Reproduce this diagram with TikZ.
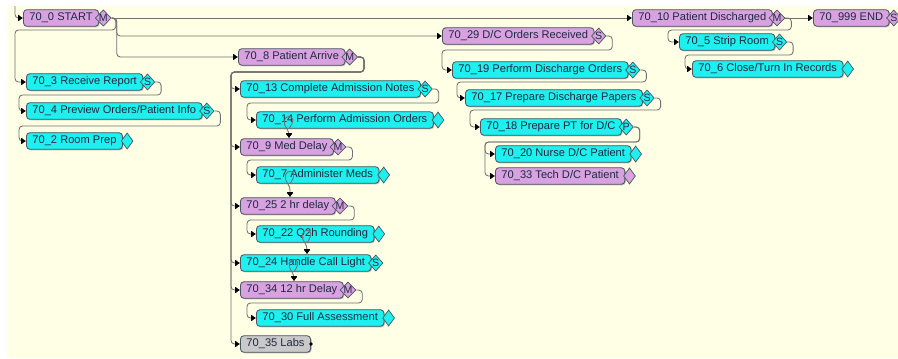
\documentclass[tikz,border=0pt]{standalone}
\usepackage{fontspec}
\setmainfont{Liberation Sans}
\usepackage{xcolor}
\usetikzlibrary{arrows.meta,shapes.geometric,shadows,calc}

\definecolor{bgyellow}{HTML}{FFFFE6}
\definecolor{taskcyan}{HTML}{1EEFEF}
\definecolor{taskpurple}{HTML}{D8A2E0}
\definecolor{taskgray}{HTML}{C9C9C9}
\definecolor{boxline}{HTML}{4A5660}
\definecolor{connline}{HTML}{707070}
\definecolor{textdark}{HTML}{202840}

\begin{document}
\begin{tikzpicture}[x=0.025cm,y=-0.025cm,
    task/.style={rectangle,rounded corners=2.5pt,draw=boxline,line width=0.6pt,
        anchor=west,minimum height=11.8pt,inner xsep=4.3pt,inner ysep=0pt,
        font=\fontsize{7.9}{9}\selectfont,text=textdark,
        drop shadow={shadow xshift=0.7pt,shadow yshift=-0.7pt,fill=black!40,opacity=.6}},
    cyantask/.style={task,fill=taskcyan},
    purpletask/.style={task,fill=taskpurple},
    graytask/.style={task,fill=taskgray},
    badge/.style={diamond,draw=boxline,line width=0.5pt,inner sep=0pt,
        minimum width=8.5pt,minimum height=11.5pt,
        font=\fontsize{7.5}{7.5}\selectfont,text=textdark},
    cyanbadge/.style={badge,fill=taskcyan},
    purplebadge/.style={badge,fill=taskpurple},
    conn/.style={draw=connline,line width=0.6pt,rounded corners=2.5pt,
        -{Bar[width=4pt,line width=0.8pt,black]Latex[length=3pt,width=4.5pt,black]}},
]
\useasboundingbox (0,0) rectangle (898,358);
\fill[bgyellow] (7,6) rectangle (898,358);

% admission side
\node (n0) at (23,18) [purpletask] {70\_0 START};
\node (n0b) at ([xshift=3pt]n0.east) [purplebadge] {M};
\node (n3) at (26,82) [cyantask] {70\_3 Receive Report};
\node (n3b) at ([xshift=3pt]n3.east) [cyanbadge] {S};
\node (n4) at (26,111) [cyantask] {70\_4 Preview Orders/Patient Info};
\node (n4b) at ([xshift=3pt]n4.east) [cyanbadge] {S};
\node (n2) at (26,141) [cyantask] {70\_2 Room Prep};
\node (n2b) at ([xshift=3pt]n2.east) [cyanbadge] {};

\node (n8) at (238,57) [purpletask] {70\_8 Patient Arrive};
\node (n8b) at ([xshift=3pt]n8.east) [purplebadge] {M};
\node (n13) at (240,89) [cyantask] {70\_13 Complete Admission Notes};
\node (n13b) at ([xshift=3pt]n13.east) [cyanbadge] {S};
\node (n14) at (256,120) [cyantask] {70\_14 Perform Admission Orders};
\node (n14b) at ([xshift=3pt]n14.east) [cyanbadge] {};
\node (n9) at (240,147) [purpletask] {70\_9 Med Delay};
\node (n9b) at ([xshift=3pt]n9.east) [purplebadge] {M};
\node (n7) at (256,175) [cyantask] {70\_7 Administer Meds};
\node (n7b) at ([xshift=3pt]n7.east) [cyanbadge] {};
\node (n25) at (240,206) [purpletask] {70\_25 2 hr delay};
\node (n25b) at ([xshift=3pt]n25.east) [purplebadge] {M};
\node (n22) at (256,234) [cyantask] {70\_22 Q2h Rounding};
\node (n22b) at ([xshift=3pt]n22.east) [cyanbadge] {};
\node (n24) at (240,263) [cyantask] {70\_24 Handle Call Light};
\node (n24b) at ([xshift=3pt]n24.east) [cyanbadge] {S};
\node (n34) at (240,290) [purpletask] {70\_34 12 hr Delay};
\node (n34b) at ([xshift=3pt]n34.east) [purplebadge] {M};
\node (n30) at (256,318) [cyantask] {70\_30 Full Assessment};
\node (n30b) at ([xshift=3pt]n30.east) [cyanbadge] {};
\node (n35) at (240,344) [graytask] {70\_35 Labs};
\node (n35d) at (n35.east) [circle,fill=black,inner sep=0.9pt] {};

% discharge side
\node (n29) at (442,36) [purpletask] {70\_29 D/C Orders Received};
\node (n29b) at ([xshift=3pt]n29.east) [purplebadge] {S};
\node (n19) at (452,70) [cyantask] {70\_19 Perform Discharge Orders};
\node (n19b) at ([xshift=3pt]n19.east) [cyanbadge] {S};
\node (n17) at (465,98) [cyantask] {70\_17 Prepare Discharge Papers};
\node (n17b) at ([xshift=3pt]n17.east) [cyanbadge] {S};
\node (n18) at (480,127) [cyantask] {70\_18 Prepare PT for D/C};
\node (n18b) at ([xshift=3pt]n18.east) [cyanbadge] {P};
\node (n20) at (495,154) [cyantask] {70\_20 Nurse D/C Patient};
\node (n20b) at ([xshift=3pt]n20.east) [cyanbadge] {};
\node (n33) at (495,176) [purpletask] {70\_33 Tech D/C Patient};
\node (n33b) at ([xshift=3pt]n33.east) [purplebadge] {};

\node (n10) at (632,18) [purpletask] {70\_10 Patient Discharged};
\node (n10b) at ([xshift=3pt]n10.east) [purplebadge] {M};
\node (n999) at (813,18) [purpletask] {70\_999 END};
\node (n999b) at ([xshift=3pt]n999.east) [purplebadge] {S};
\node (n5) at (679,42) [cyantask] {70\_5 Strip Room};
\node (n5b) at ([xshift=3pt]n5.east) [cyanbadge] {S};
\node (n6) at (692,69) [cyantask] {70\_6 Close/Turn In Records};
\node (n6b) at ([xshift=3pt]n6.east) [cyanbadge] {};

% connectors
\coordinate (in0) at (15,6);
\draw[conn] (in0) |- (n0.west);
\draw[conn] (n0b.east) -- (n10.west);
\draw[conn] (n0b.east) -- ++(5,0) |- (n29.west);
\draw[conn] (n0b.east) -- ++(5,0) |- (n8.west);
\draw[conn] (n0b.east) -| ++(4,12) -| ($(n3.west)+(-11,0)$) -- (n3.west);
\draw[conn] (n3b.east) -| ++(6,13) -| ($(n4.west)+(-7,0)$) -- (n4.west);
\draw[conn] (n4b.east) -| ++(6,15) -| ($(n2.west)+(-7,0)$) -- (n2.west);

\coordinate (bus8) at ($(n13.west)+(-9,0)$);
\draw[conn] (n8b.east) -| ++(6,15) -| (bus8) -- (n13.west);
\draw[conn] (n8b.east) -| ++(6,15) -| (bus8) |- (n9.west);
\draw[conn] (n8b.east) -| ++(6,15) -| (bus8) |- (n25.west);
\draw[conn] (n8b.east) -| ++(6,15) -| (bus8) |- (n24.west);
\draw[conn] (n8b.east) -| ++(6,15) -| (bus8) |- (n34.west);
\draw[conn] (n8b.east) -| ++(6,15) -| (bus8) |- (n35.west);

\draw[conn] (n13b.east) -| ++(6,14) -| ($(n14.west)+(-9,0)$) -- (n14.west);
\draw[conn] (n9b.east) -| ++(6,13) -| ($(n7.west)+(-9,0)$) -- (n7.west);
\draw[conn] (n25b.east) -| ++(6,14) -| ($(n22.west)+(-9,0)$) -- (n22.west);
\draw[conn] (n34b.east) -| ++(6,13) -| ($(n30.west)+(-9,0)$) -- (n30.west);

% small loops
\coordinate (lp9) at ($(n9.north west)+(49,0)$);
\draw[conn] (lp9 |- n14.south) .. controls +(13,-18) and +(-13,-18) .. ($(lp9 |- n14.south)+(0,3)$) -- (lp9);
\coordinate (lp25) at ($(n25.north west)+(50,0)$);
\draw[conn] (lp25 |- n7.south) .. controls +(13,-18) and +(-13,-18) .. ($(lp25 |- n7.south)+(0,3)$) -- (lp25);
\coordinate (lp24) at ($(n24.north west)+(67,0)$);
\draw[conn] (lp24 |- n22.south) .. controls +(13,-18) and +(-13,-18) .. ($(lp24 |- n22.south)+(0,3)$) -- (lp24);
\coordinate (lp34) at ($(n34.north west)+(54,0)$);
\draw[conn] (lp34 |- n24.south) .. controls +(13,-18) and +(-13,-18) .. ($(lp34 |- n24.south)+(0,3)$) -- (lp34);

\draw[conn] (n29b.east) -| ++(6,14) -| ($(n19.west)+(-10,0)$) -- (n19.west);
\draw[conn] (n19b.east) -| ++(6,12) -| ($(n17.west)+(-8,0)$) -- (n17.west);
\draw[conn] (n17b.east) -| ++(6,12) -| ($(n18.west)+(-10,0)$) -- (n18.west);
\draw[conn] (n18b.east) -| ++(6,15) -| ($(n20.west)+(-10,0)$) -- (n20.west);
\draw[conn] (n18b.east) -| ++(6,15) -| ($(n20.west)+(-10,0)$) |- (n33.west);

\draw[conn] (n10b.east) -- (n999.west);
\draw[conn] (n10b.east) -| ++(6,12) -| ($(n5.west)+(-11,0)$) -- (n5.west);
\draw[conn] (n5b.east) -| ++(6,13) -| ($(n6.west)+(-7,0)$) -- (n6.west);
\end{tikzpicture}
\end{document}
